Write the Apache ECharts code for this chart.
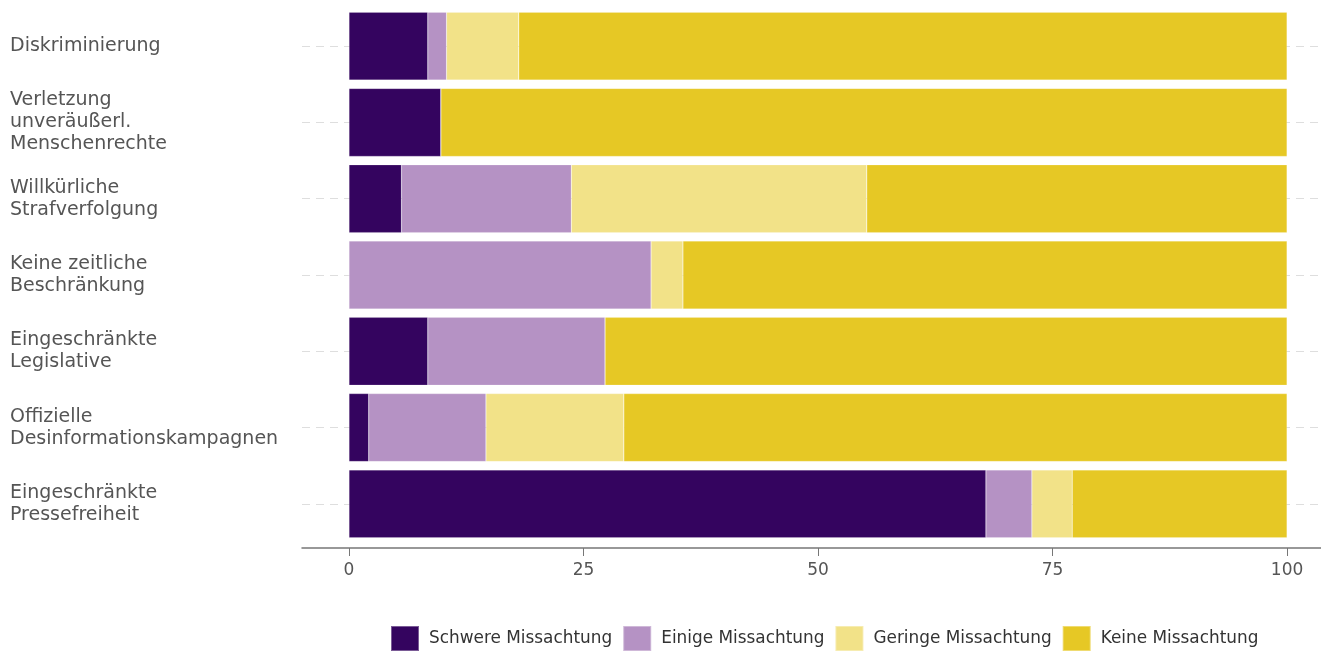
<!DOCTYPE html>
<html><head><meta charset="utf-8">
<script src="https://cdn.jsdelivr.net/npm/echarts@6/dist/echarts.min.js"></script>
<style>html,body{margin:0;padding:0;background:#fff}#c{width:1321px;height:652px}</style>
</head><body><div id="c"></div>
<script>
const categories = ['Diskriminierung', 'Verletzung\nunveräußerl.\nMenschenrechte', 'Willkürliche\nStrafverfolgung', 'Keine zeitliche\nBeschränkung', 'Eingeschränkte\nLegislative', 'Offizielle\nDesinformationskampagnen', 'Eingeschränkte\nPressefreiheit'];
const seriesNames = ['Schwere Missachtung', 'Einige Missachtung', 'Geringe Missachtung', 'Keine Missachtung'];
const schwere = [8.4, 9.8, 5.6, 0, 8.4, 2.1, 67.9];
const einige  = [2.0, 0, 18.1, 32.2, 18.9, 12.5, 4.9];
const geringe = [7.7, 0, 31.5, 3.4, 0, 14.7, 4.3];
const keine   = [81.9, 90.2, 44.8, 64.4, 72.7, 70.7, 22.9];
const tickValues = [0, 25, 50, 75, 100];
const colors = ['#34045f', '#b592c4', '#f2e288', '#e6c825'];

const chart = echarts.init(document.getElementById('c'), null, {renderer: 'canvas'});
const valuesList = [schwere, einige, geringe, keine];
const series = valuesList.map((vals, i) => ({
  name: seriesNames[i], type: 'bar', stack: 'all', z: 3,
  barCategoryGap: '11%',
  itemStyle: {color: colors[i], borderColor: 'rgba(255,255,255,0.35)', borderWidth: 0.5},
  data: vals
}));
series.push({
  type: 'line', name: '_grid', z: 1, silent: true, data: [], symbol: 'none',
  markLine: {
    z: 1, silent: true, symbol: 'none', label: {show: false},
    lineStyle: {color: '#dedede', type: [8, 6], width: 1},
    data: categories.map(c => ({yAxis: c}))
  }
});
chart.setOption({
  animation: false,
  textStyle: {fontFamily: 'DejaVu Sans'},
  grid: {left: 302, right: 0, top: 8, bottom: 110},
  legend: {
    data: seriesNames, bottom: 0, left: 390, padding: 0, itemWidth: 28, itemHeight: 25, itemGap: 10,
    icon: 'rect',
    textStyle: {fontFamily: 'DejaVu Sans', fontSize: 16.9, color: '#333', padding: [0, 0, 0, 5]}
  },
  xAxis: {
    type: 'value', min: -5.01, max: 103.62, offset: 6,
    axisLine: {show: true, lineStyle: {color: '#777', width: 1.5}},
    axisTick: {show: true, customValues: tickValues, length: 8, lineStyle: {color: '#777'}},
    axisLabel: {customValues: tickValues, fontFamily: 'DejaVu Sans', fontSize: 17, color: '#555', margin: 14},
    splitLine: {show: false}
  },
  yAxis: {
    type: 'category', inverse: true, data: categories,
    axisLine: {show: false}, axisTick: {show: false},
    axisLabel: {align: 'left', margin: 292, fontSize: 19, color: '#555', lineHeight: 22, fontFamily: 'DejaVu Sans'},
    splitLine: {show: false}
  },
  series: series
});
</script></body></html>
